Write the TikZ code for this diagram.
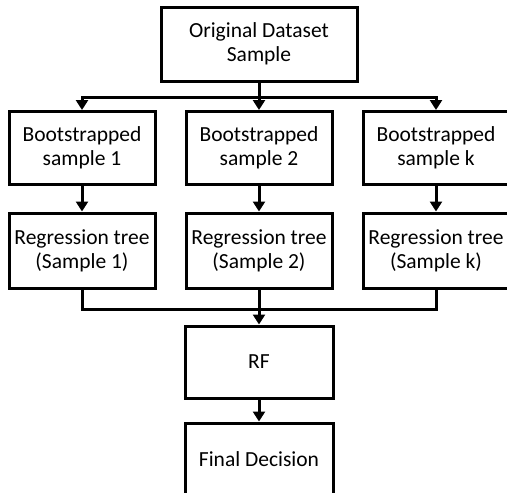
\documentclass[tikz,border=0pt]{standalone}
\usepackage{fontspec}
\setmainfont{Carlito}
\usetikzlibrary{arrows.meta}
\begin{document}
\begin{tikzpicture}[x=1pt,y=-1pt,
  box/.style={draw=black,line width=3pt,fill=white,align=center,inner sep=0pt,
    font=\fontsize{21.5}{24}\selectfont,minimum height=73pt},
  wbox/.style={box,minimum width=146pt},
  link/.style={line width=3pt},
  arr/.style={line width=3pt,-{Triangle[width=12pt,length=10pt]}}]
\useasboundingbox (0,0) rectangle (507,493);
\clip (0,0) rectangle (507,493);
\node[box,minimum width=196pt,minimum height=74pt] (top) at (259,44) {Original Dataset\\Sample};
\node[wbox] (b1) at (82,148) {Bootstrapped\\sample 1};
\node[wbox] (b2) at (259,148) {Bootstrapped\\sample 2};
\node[wbox] (b3) at (436,148) {Bootstrapped\\sample k};
\node[wbox,minimum height=75pt] (r1) at (82,250.5) {Regression tree\\(Sample 1)};
\node[wbox,minimum height=75pt] (r2) at (259,250.5) {Regression tree\\(Sample 2)};
\node[wbox,minimum height=75pt] (r3) at (436,250.5) {Regression tree\\(Sample k)};
\node[box,minimum width=148pt,minimum height=72pt] (rf) at (259,362) {RF};
\node[box,minimum width=148pt,minimum height=72pt] (fd) at (259,459) {Final Decision};
\coordinate (s) at (259,97);
\coordinate (m) at (259,309);
\draw[link] (top.south) -- (s);
\draw[arr] (s) -| (b1.north);
\draw[arr] (s) -| (b3.north);
\draw[arr] (s) -- (b2.north);
\draw[arr] (b1) -- (r1);
\draw[arr] (b2) -- (r2);
\draw[arr] (b3) -- (r3);
\draw[link] (r1.south) |- (m);
\draw[link] (r3.south) |- (m);
\draw[arr] (r2.south) -- (rf.north);
\draw[arr] (rf) -- (fd);
\end{tikzpicture}
\end{document}
